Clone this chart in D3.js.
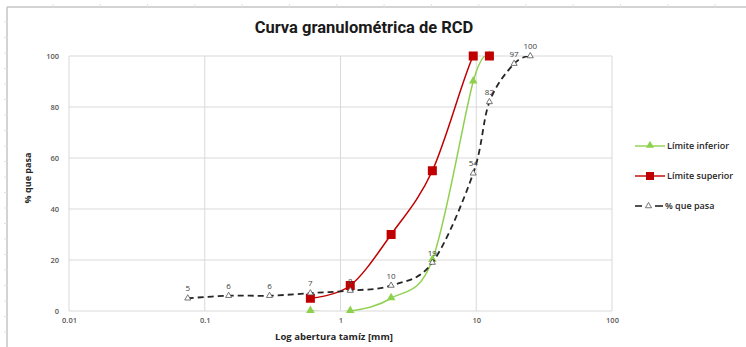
<!DOCTYPE html>
<html>
<head>
<meta charset="utf-8">
<script src="https://cdn.jsdelivr.net/npm/d3@7"></script>
<style>
  html, body { margin: 0; padding: 0; background: #fff; }
  svg { display: block; font-family: "Open Sans", Roboto, sans-serif; }
</style>
</head>
<body>
<svg id="chart" width="746" height="347"></svg>
<script>
// Sieve openings (mm) and passing percentages
const sieveSizes = [0.075, 0.15, 0.3, 0.6, 1.18, 2.36, 4.75, 9.5, 12.5, 19, 25];
const passing    = [5, 6, 6, 7, 8, 10, 19, 54, 82, 97, 100];

const limitSizes = [0.6, 1.18, 2.36, 4.75, 9.5, 12.5];
const lowerLimit = [0, 0, 5, 20, 90, 100];
const upperLimit = [5, 10, 30, 55, 100, 100];

const xTicks = [0.01, 0.1, 1, 10, 100];
const yTicks = [0, 20, 40, 60, 80, 100];

const titleText = "Curva granulométrica de RCD";
const xTitle = "Log abertura tamíz [mm]";
const yTitle = "% que pasa";
const seriesNames = ["Límite inferior", "Límite superior", "% que pasa"];

const svg = d3.select("#chart");
const W = 746, H = 347;
const plot = { left: 69, right: 612, top: 56, bottom: 311 };

const x = d3.scaleLog().domain([0.01, 100]).range([plot.left, plot.right]);
const y = d3.scaleLinear().domain([0, 100]).range([plot.bottom, plot.top]);

// outer frame with small ruler ticks
const frame = svg.append("g").attr("stroke", "#c4c4c4").attr("fill", "none");
frame.append("line").attr("x1", 7).attr("x2", W).attr("y1", 7).attr("y2", 7).attr("stroke-width", 1.5);
frame.append("line").attr("x1", 7).attr("x2", 7).attr("y1", 7).attr("y2", H).attr("stroke-width", 1.5);
d3.range(53, W, 47.3).forEach(t => {
  frame.append("line").attr("x1", t).attr("x2", t).attr("y1", 4).attr("y2", 7).attr("stroke", "#e2e2e2");
});
d3.range(22, H, 15.5).forEach(t => {
  frame.append("line").attr("x1", 4).attr("x2", 7).attr("y1", t).attr("y2", t).attr("stroke", "#e2e2e2");
});

// title
svg.append("text")
  .attr("x", 364).attr("y", 33)
  .attr("text-anchor", "middle")
  .attr("font-family", "Roboto, sans-serif")
  .attr("font-size", 16.5).attr("font-weight", "bold")
  .attr("fill", "#1a1a1a")
  .text(titleText);

// gridlines
const grid = svg.append("g").attr("stroke", "#d9d9d9").attr("stroke-width", 1);
xTicks.forEach(t => {
  grid.append("line").attr("x1", x(t)).attr("x2", x(t)).attr("y1", plot.top).attr("y2", plot.bottom);
});
yTicks.forEach(t => {
  grid.append("line").attr("x1", plot.left).attr("x2", plot.right).attr("y1", y(t)).attr("y2", y(t));
});

// axes (tick labels only)
const xAxis = d3.axisBottom(x).tickValues(xTicks).tickFormat(d => String(d)).tickSize(0).tickPadding(7);
const gx = svg.append("g").attr("transform", `translate(0,${plot.bottom})`).call(xAxis);
const yAxis = d3.axisLeft(y).tickValues(yTicks).tickSize(0).tickPadding(10);
const gy = svg.append("g").attr("transform", `translate(${plot.left},0)`).call(yAxis);
[gx, gy].forEach(g => {
  g.select(".domain").remove();
  g.selectAll("text").attr("font-size", 7.5).attr("font-weight", 600)
    .attr("fill", "#595959").attr("font-family", "'Open Sans', sans-serif");
});

// axis titles
svg.append("text")
  .attr("x", 334).attr("y", 340)
  .attr("text-anchor", "middle")
  .attr("font-size", 9.5).attr("font-weight", "bold").attr("fill", "#262626")
  .text(xTitle);
svg.append("text")
  .attr("transform", `translate(31,178) rotate(-90)`)
  .attr("text-anchor", "middle")
  .attr("font-size", 9).attr("font-weight", "bold").attr("fill", "#262626")
  .text(yTitle);

// clip for the smoothed lines
svg.append("clipPath").attr("id", "plotClip")
  .append("rect")
  .attr("x", plot.left).attr("y", plot.top)
  .attr("width", plot.right - plot.left).attr("height", plot.bottom - plot.top);

const line = d3.line().x(d => x(d[0])).y(d => y(d[1])).curve(d3.curveCatmullRom.alpha(0));

const lowerPts = limitSizes.map((s, i) => [s, lowerLimit[i]]);
const upperPts = limitSizes.map((s, i) => [s, upperLimit[i]]);
const passPts = sieveSizes.map((s, i) => [s, passing[i]]);

const GREEN = "#8fd14f", RED = "#c00000", DARK = "#262626";
const tri = d3.symbol().type(d3.symbolTriangle);

const lines = svg.append("g").attr("clip-path", "url(#plotClip)").attr("fill", "none");
lines.append("path").attr("d", line(lowerPts)).attr("stroke", GREEN).attr("stroke-width", 1.5);

// lower limit markers
svg.append("g").selectAll("path").data(lowerPts).join("path")
  .attr("d", tri.size(32)())
  .attr("transform", d => `translate(${x(d[0])},${y(d[1]) - 0.5})`)
  .attr("fill", GREEN);

const lines2 = svg.append("g").attr("clip-path", "url(#plotClip)").attr("fill", "none");
lines2.append("path").attr("d", line(upperPts)).attr("stroke", RED).attr("stroke-width", 1.5);

// upper limit markers
svg.append("g").selectAll("rect").data(upperPts).join("rect")
  .attr("x", d => x(d[0]) - 4.5).attr("y", d => y(d[1]) - 4.5)
  .attr("width", 9).attr("height", 9)
  .attr("fill", RED);

const lines3 = svg.append("g").attr("clip-path", "url(#plotClip)").attr("fill", "none");
lines3.append("path").attr("d", line(passPts)).attr("stroke", DARK).attr("stroke-width", 1.8)
  .attr("stroke-dasharray", "6,4");

// passing markers
svg.append("g").selectAll("path").data(passPts).join("path")
  .attr("d", tri.size(16)())
  .attr("transform", d => `translate(${x(d[0])},${y(d[1])})`)
  .attr("fill", "#fff").attr("stroke", "#555").attr("stroke-width", 0.8);

// passing data labels
svg.append("g").selectAll("text").data(passPts).join("text")
  .attr("x", d => x(d[0])).attr("y", d => y(d[1]) - 7)
  .attr("text-anchor", "middle")
  .attr("font-size", 8).attr("fill", "#404040")
  .text(d => d[1]);

// legend
const legend = svg.append("g").attr("transform", "translate(635,0)");
const legendRows = [
  { name: seriesNames[0], color: GREEN, kind: "tri", y: 146 },
  { name: seriesNames[1], color: RED, kind: "sq", y: 176 },
  { name: seriesNames[2], color: DARK, kind: "open", y: 206 }
];
legendRows.forEach(r => {
  if (r.kind === "open") {
    legend.append("line").attr("x1", 0).attr("x2", 7).attr("y1", r.y).attr("y2", r.y).attr("stroke", DARK).attr("stroke-width", 1.6);
    legend.append("line").attr("x1", 20).attr("x2", 28).attr("y1", r.y).attr("y2", r.y).attr("stroke", DARK).attr("stroke-width", 1.6);
    legend.append("path").attr("d", tri.size(16)()).attr("transform", `translate(13.5,${r.y})`)
      .attr("fill", "#fff").attr("stroke", "#555").attr("stroke-width", 0.8);
  } else {
    legend.append("line").attr("x1", 0).attr("x2", 30).attr("y1", r.y).attr("y2", r.y).attr("stroke", r.color).attr("stroke-width", 1.4);
    if (r.kind === "tri") {
      legend.append("path").attr("d", tri.size(28)()).attr("transform", `translate(15,${r.y - 0.5})`).attr("fill", r.color);
    } else {
      legend.append("rect").attr("x", 11).attr("y", r.y - 4).attr("width", 8).attr("height", 8).attr("fill", r.color);
    }
  }
  legend.append("text")
    .attr("x", r.kind === "open" ? 30 : 32).attr("y", r.y + 3.2)
    .attr("font-size", 9).attr("font-weight", 600).attr("fill", "#262626")
    .text(r.name);
});
</script>
</body>
</html>
